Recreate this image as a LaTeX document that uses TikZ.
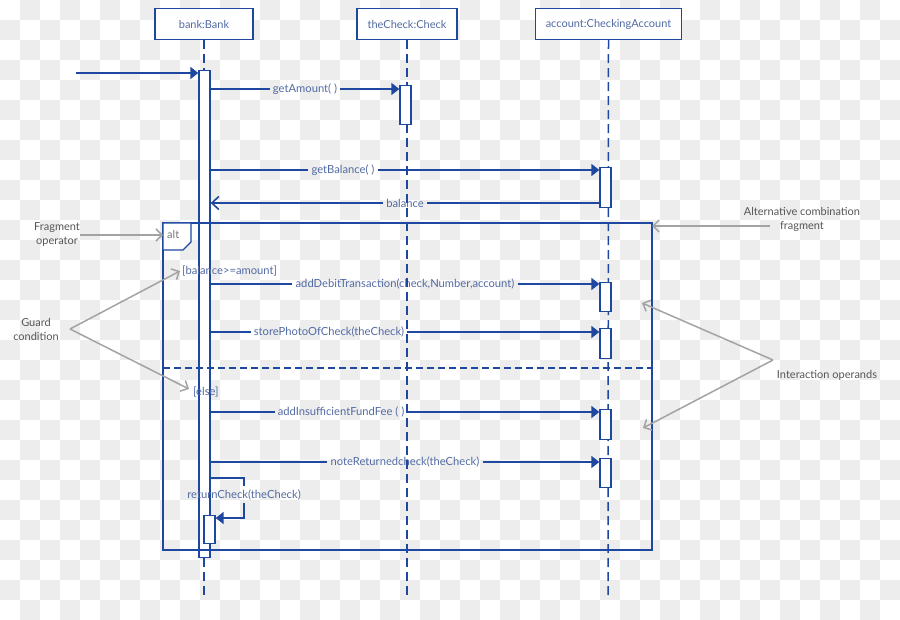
\documentclass[tikz,border=0pt]{standalone}
\usepackage{fontspec}
\setmainfont{Lato}
\usetikzlibrary{arrows.meta}
\definecolor{umlblue}{HTML}{1E47A0}
\definecolor{lblc}{HTML}{526AA2}
\definecolor{annoc}{HTML}{A3A3A3}
\definecolor{annotext}{HTML}{555555}
\definecolor{bgc}{HTML}{EDEDED}
\begin{document}
\begin{tikzpicture}[x=1pt,y=-1pt,
  head/.style={draw=umlblue,line width=1.4pt,fill=white,minimum height=31pt,inner sep=0pt,text=lblc,font=\fontsize{11}{13}\selectfont},
  lifeline/.style={draw=umlblue,line width=1.5pt,dash pattern=on 9pt off 5pt},
  act/.style={draw=umlblue,line width=1.3pt,fill=white,minimum width=11pt,inner sep=0pt,anchor=north},
  msg/.style={draw=umlblue,line width=1.6pt},
  sync/.style={msg,-{Triangle[length=8pt,width=12pt]}},
  reply/.style={msg,-{Straight Barb[length=7pt,width=13pt]}},
  lab/.style={text=lblc,font=\fontsize{11.2}{13}\selectfont,inner sep=3pt},
  anno/.style={draw=annoc,line width=1.5pt},
  annoarr/.style={anno,-{Straight Barb[length=6pt,width=12pt]}},
  annolab/.style={text=annotext,font=\fontsize{11}{14}\selectfont,align=center,inner sep=0pt},
]
\useasboundingbox (0,0) rectangle (900,620);
% checkerboard background
\foreach \i in {0,...,44}{\foreach \j in {0,...,30}{%
  \pgfmathtruncatemacro\k{mod(\i+\j,2)}%
  \ifnum\k=1 \fill[bgc] (\i*20,\j*20) rectangle ++(20,20);\fi}}

% lifeline heads
\node[head,minimum width=98pt] (bank) at (204,24) {bank:Bank};
\node[head,minimum width=100pt] (check) at (407,24) {theCheck:Check};
\node[head,minimum width=146pt] (acct) at (608.5,24) {account:CheckingAccount};

% message labels
\node[lab] (lGA) at (305,89) {getAmount( )};
\node[lab] (lGB) at (343,170) {getBalance( )};
\node[lab] (lBal) at (405,203) {balance};
\node[lab] (lAD) at (405,284) {addDebitTransaction(check,Number,account)};
\node[lab] (lSP) at (329,332) {storePhotoOfCheck(theCheck)};
\node[lab] (lAI) at (341,412) {addInsufficientFundFee ( )};
\node[lab] (lNR) at (405,462) {noteReturnedcheck(theCheck)};

% lifelines
\draw[lifeline] (bank.south) -- (204,597);
\draw[lifeline] (check.south) -- (407,597);
\draw[lifeline] (acct.south) -- (608,597);

% activations
\node[act,minimum height=487pt] (bA) at (204.5,70) {};
\node[act,minimum height=39pt] (cA) at (405.5,85) {};
\node[act,minimum height=40pt] (aA1) at (605.5,167) {};
\node[act,minimum height=29pt] (aA2) at (605.5,282) {};
\node[act,minimum height=30pt] (aA3) at (605.5,328) {};
\node[act,minimum height=30pt] (aA4) at (605.5,409) {};
\node[act,minimum height=29pt] (aA5) at (605.5,458) {};
\node[act,minimum height=28pt] (bB) at (209.5,515) {};

% labels drawn over the activation
\node[lab] (lRC) at (244,494.5) {returnCheck(theCheck)};
\node[lab,anchor=west,inner sep=0pt] (g1) at (182,271.5) {[balance>=amount]};
\node[lab,anchor=west,inner sep=0pt] (g2) at (193,392.5) {[else]};

% incoming
\coordinate (in) at (76,73);
\draw[sync] (in) -- (bA.west|-in);

% messages
\draw[msg] (bA.east|-lGA) -- (lGA.west);
\draw[sync] (lGA.east) -- (cA.west|-lGA);
\draw[msg] (bA.east|-lGB) -- (lGB.west);
\draw[sync] (lGB.east) -- (aA1.west|-lGB);
\draw[msg] (aA1.west|-lBal) -- (lBal.east);
\draw[reply] (lBal.west) -- (bA.east|-lBal);
\draw[msg] (bA.east|-lAD) -- (lAD.west);
\draw[sync] (lAD.east) -- (aA2.west|-lAD);
\draw[msg] (bA.east|-lSP) -- (lSP.west);
\draw[sync] (lSP.east) -- (aA3.west|-lSP);
\draw[msg] (bA.east|-lAI) -- (lAI.west);
\draw[sync] (lAI.east) -- (aA4.west|-lAI);
\draw[msg] (bA.east|-lNR) -- (lNR.west);
\draw[sync] (lNR.east) -- (aA5.west|-lNR);
% self message
\coordinate (s1) at (244,478);
\coordinate (s2) at (244,518);
\draw[msg] (bA.east|-s1) -- (s1) -- (s1|-lRC.north);
\draw[sync] (s2|-lRC.south) -- (s2) -- (bB.east|-s2);

% alt fragment
\draw[msg,line width=1.4pt] (163,223) rectangle (652,550);
\coordinate (fr) at (652,226);
\draw[msg,line width=1.4pt,fill=white] (163,223) -- (191,223) -- (191,242) -- (183,250) -- (163,250) -- cycle;
\node[text=annotext!80,font=\fontsize{11}{13}\selectfont,anchor=west,inner sep=0pt] (alt) at (167,234) {alt};
\draw[msg,dash pattern=on 7pt off 4pt] (163,368) -- (652,368);

% annotations
\node[annolab] (fo) at (57,235) {Fragment\\operator};
\draw[annoarr] (fo.east) -- (163,235);
\node[annolab] (gc) at (36,329) {Guard\\condition};
\coordinate (gcp) at (70,329);
\draw[annoarr] (gcp) -- (180,271);
\draw[annoarr] (gcp) -- (189,389);
\node[annolab] (acf) at (802,219) {Alternative combination\\fragment};
\draw[annoarr] (770,226) -- (fr);
\node[annolab] (io) at (827,375) {Interaction operands};
\coordinate (iop) at (773,360);
\draw[annoarr] (iop) -- (642,303);
\draw[annoarr] (iop) -- (643,428);
\end{tikzpicture}
\end{document}
